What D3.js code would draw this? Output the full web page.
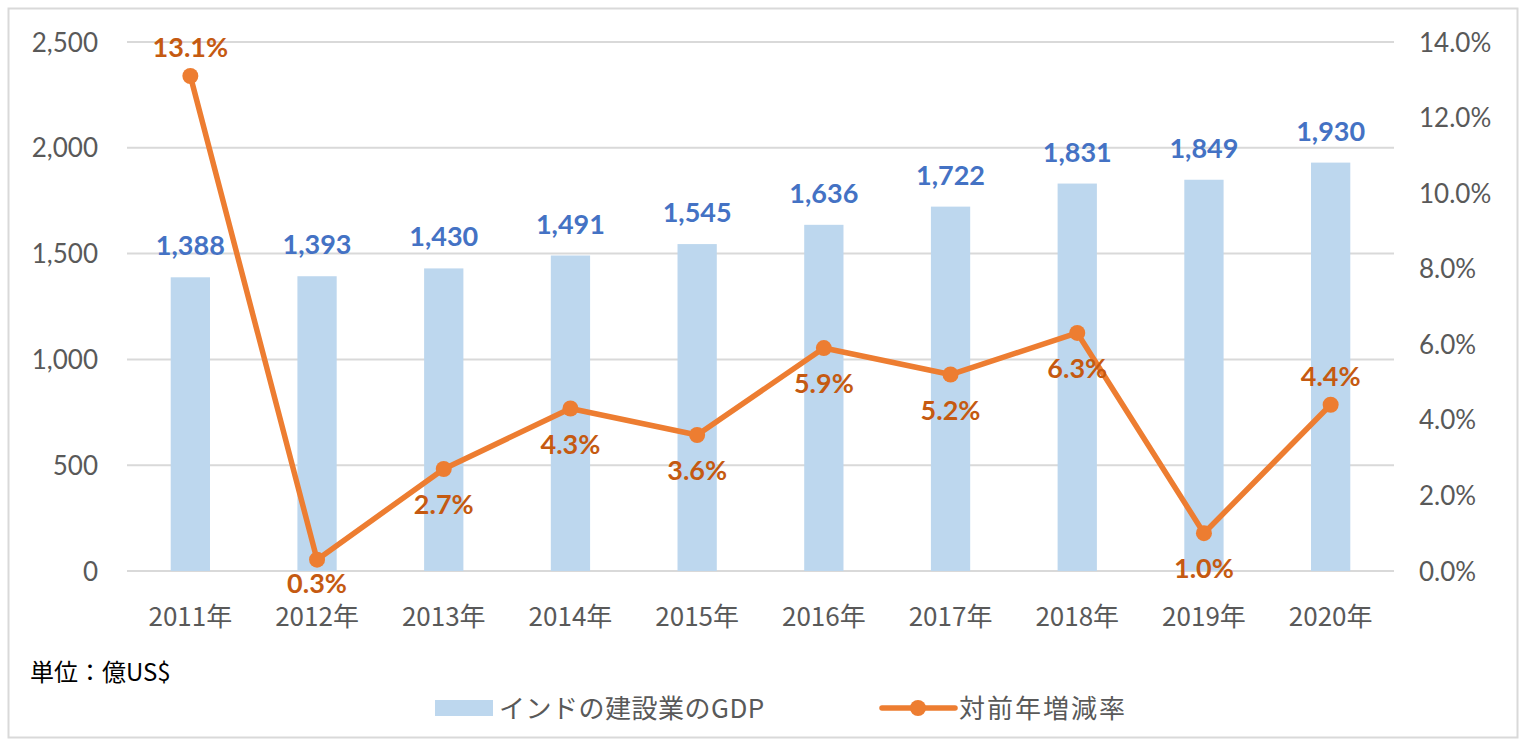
<!DOCTYPE html>
<html><head><meta charset="utf-8">
<script src="https://cdn.jsdelivr.net/npm/d3@7"></script>
<style>
body{margin:0;background:#fff;}
svg{display:block;}
</style></head>
<body>
<svg id="chart" width="1528" height="746"></svg>
<script>
const categories = ["2011年","2012年","2013年","2014年","2015年","2016年","2017年","2018年","2019年","2020年"];
const gdpValues = [1388,1393,1430,1491,1545,1636,1722,1831,1849,1930];
const rateValues = [13.1,0.3,2.7,4.3,3.6,5.9,5.2,6.3,1.0,4.4];
const rateLabelSide = ["above","below","below","below","below","below","below","below","below","above"];
const leftTicks = [0,500,1000,1500,2000,2500];
const rightTicks = [0,2,4,6,8,10,12,14];
const seriesNames = ["インドの建設業のGDP","対前年増減率"];
const unitLabel = "単位：億US$";

const numFont = "Lato, 'Noto Sans', sans-serif";
const jpFont = "'Noto Sans CJK JP', 'Noto Sans', sans-serif";
const barColor = "#BDD7EE", lineColor = "#ED7D31", barLabelColor = "#4472C4", lineLabelColor = "#C55A11";

const svg = d3.select("#chart");
svg.append("rect").attr("x",8.5).attr("y",8.5).attr("width",1509).attr("height",729)
  .attr("fill","#fff").attr("stroke","#D9D9D9").attr("stroke-width",2);

const L=127, R=1394, T=42, B=571;
const x = d3.scaleBand().domain(categories).range([L,R]).paddingInner(0.69).paddingOuter(0.345);
const yL = d3.scaleLinear().domain([0,2500]).range([B,T]);
const yR = d3.scaleLinear().domain([0,14]).range([B,T]);

// gridlines
svg.append("g").selectAll("line").data(leftTicks).join("line")
  .attr("x1",L).attr("x2",R).attr("y1",d=>yL(d)).attr("y2",d=>yL(d))
  .attr("stroke","#D9D9D9").attr("stroke-width",2);

// left axis labels
const axL = d3.axisLeft(yL).tickValues(leftTicks).tickFormat(d3.format(",")).tickSize(0).tickPadding(0);
const gL = svg.append("g").attr("transform",`translate(98,0)`).call(axL);
gL.select(".domain").remove();
gL.selectAll("text").attr("font-family",numFont).attr("font-size",26).attr("fill","#595959").attr("dy","0.35em");

// right axis labels (left-aligned)
const axR = d3.axisRight(yR).tickValues(rightTicks).tickFormat(d=>d3.format(".1f")(d)+"%").tickSize(0).tickPadding(0);
const gR = svg.append("g").attr("transform",`translate(1419,0)`).call(axR);
gR.select(".domain").remove();
gR.selectAll("text").attr("font-family",numFont).attr("font-size",26).attr("fill","#595959").attr("dy","0.35em");

// bottom axis
const axB = d3.axisBottom(x).tickSize(0).tickPadding(0);
const gB = svg.append("g").attr("transform",`translate(0,${B+46})`).call(axB);
gB.select(".domain").remove();
gB.selectAll("text").attr("font-family",jpFont).attr("font-size",26).attr("fill","#595959").attr("dy","0.35em");

// bars
svg.append("g").selectAll("rect").data(gdpValues).join("rect")
  .attr("x",(d,i)=>x(categories[i])).attr("width",x.bandwidth())
  .attr("y",d=>yL(d)).attr("height",d=>B-yL(d)).attr("fill",barColor);

// bar labels
svg.append("g").selectAll("text").data(gdpValues).join("text")
  .attr("x",(d,i)=>x(categories[i])+x.bandwidth()/2).attr("y",d=>yL(d)-22)
  .attr("text-anchor","middle").attr("font-family",numFont).attr("font-weight","bold")
  .attr("font-size",27).attr("fill",barLabelColor).text(d=>d3.format(",")(d));

// line
const cx = i=>x(categories[i])+x.bandwidth()/2;
const line = d3.line().x((d,i)=>cx(i)).y(d=>yR(d));
svg.append("path").datum(rateValues).attr("d",line).attr("fill","none")
  .attr("stroke",lineColor).attr("stroke-width",5.5).attr("stroke-linejoin","round");
svg.append("g").selectAll("circle").data(rateValues).join("circle")
  .attr("cx",(d,i)=>cx(i)).attr("cy",d=>yR(d)).attr("r",8).attr("fill",lineColor);

// line labels
svg.append("g").selectAll("text").data(rateValues).join("text")
  .attr("x",(d,i)=>cx(i))
  .attr("y",(d,i)=>rateLabelSide[i]==="above"? yR(d)-19 : Math.min(yR(d)+45, B+22))
  .attr("text-anchor","middle").attr("font-family",numFont).attr("font-weight","bold")
  .attr("font-size",27).attr("fill",lineLabelColor).text(d=>d3.format(".1f")(d)+"%");

// unit label
svg.append("text").attr("x",30).attr("y",681).attr("font-family",jpFont).attr("font-size",24)
  .attr("fill","#000").text(unitLabel);

// legend
const lg = svg.append("g");
lg.append("rect").attr("x",435).attr("y",700).attr("width",58).attr("height",16).attr("fill",barColor);
lg.append("text").attr("x",499).attr("y",718).attr("font-family",jpFont).attr("font-size",26)
  .attr("letter-spacing",0.5).attr("fill","#595959").text(seriesNames[0]);
lg.append("line").attr("x1",882).attr("x2",955).attr("y1",708).attr("y2",708)
  .attr("stroke",lineColor).attr("stroke-width",5.5).attr("stroke-linecap","round");
lg.append("circle").attr("cx",918).attr("cy",708).attr("r",8).attr("fill",lineColor);
lg.append("text").attr("x",959).attr("y",718).attr("font-family",jpFont).attr("font-size",26)
  .attr("letter-spacing",2).attr("fill","#595959").text(seriesNames[1]);
</script>
</body></html>
